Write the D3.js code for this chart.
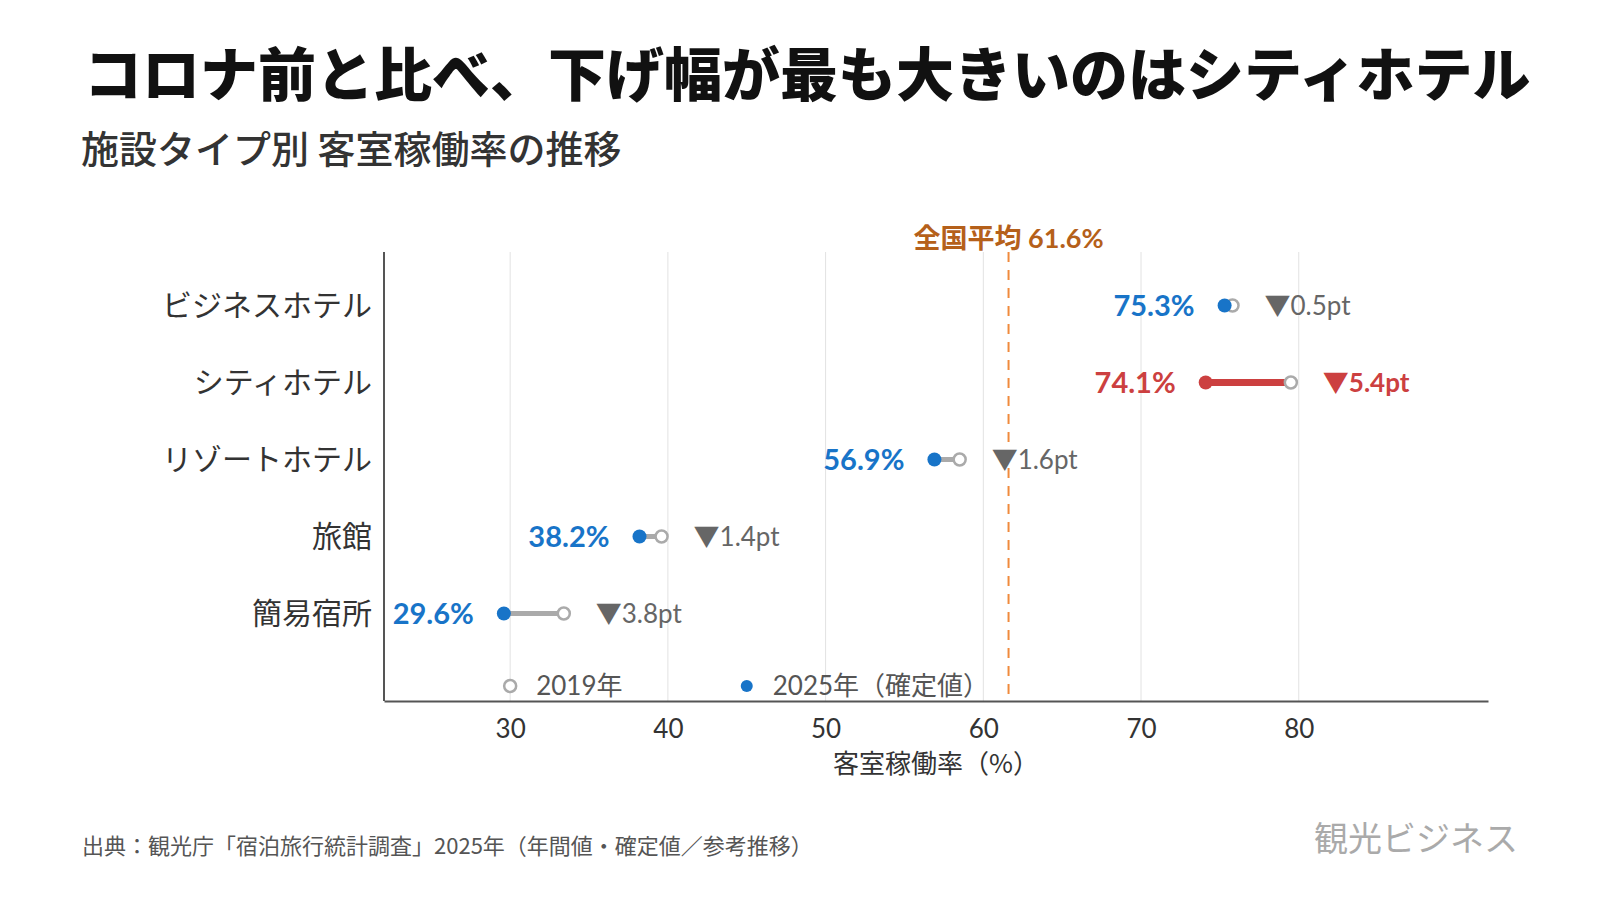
<!DOCTYPE html>
<html>
<head>
<meta charset="utf-8">
<script src="https://cdn.jsdelivr.net/npm/d3@7"></script>
<style>
  body { margin: 0; background: #fff; }
  svg { display: block; }
</style>
</head>
<body>
<div id="chart"></div>
<script>
// Data
const categories = ["ビジネスホテル", "シティホテル", "リゾートホテル", "旅館", "簡易宿所"];
const rate2019 = [75.8, 79.5, 58.5, 39.6, 33.4];
const rate2025 = [75.3, 74.1, 56.9, 38.2, 29.6];
const nationalAvg = 61.6;
const xTicks = [30, 40, 50, 60, 70, 80];
const highlight = "シティホテル";

const width = 1600, height = 900;
const font_jp = "'Noto Sans CJK JP', 'Noto Sans', sans-serif";
const font_num = "Lato, 'Noto Sans CJK JP', sans-serif";
const blue = "#1874c8", red = "#cc4040", grey = "#aaaaaa", orange = "#f08a3c";

const svg = d3.select("#chart").append("svg")
    .attr("width", width)
    .attr("height", height);

// Title
svg.append("text")
    .attr("x", 84).attr("y", 96)
    .attr("font-family", font_jp).attr("font-size", 58).attr("font-weight", 900)
    .attr("fill", "#111")
    .text("コロナ前と比べ、下げ幅が最も大きいのはシティホテル");

svg.append("text")
    .attr("x", 81).attr("y", 163)
    .attr("font-family", font_jp).attr("font-size", 38).attr("font-weight", 500)
    .attr("fill", "#333")
    .text("施設タイプ別 客室稼働率の推移");

// Scales
const plot = { left: 384, right: 1488, top: 252, bottom: 701 };

const xScale = d3.scaleLinear()
    .domain([22, 92])
    .range([plot.left, plot.right]);

const yScale = d3.scaleBand()
    .domain(categories)
    .range([267, 652]);

const yc = d => yScale(d) + yScale.bandwidth() / 2;

// Gridlines
svg.append("g")
    .selectAll("line")
    .data(xTicks)
    .join("line")
    .attr("x1", d => xScale(d)).attr("x2", d => xScale(d))
    .attr("y1", plot.top).attr("y2", plot.bottom)
    .attr("stroke", "#e2e2e2").attr("stroke-width", 1);

// Axes
const xAxis = svg.append("g")
    .attr("transform", `translate(0, ${plot.bottom})`)
    .call(d3.axisBottom(xScale).tickValues(xTicks).tickSize(0).tickPadding(19));
xAxis.select(".domain").attr("stroke", "#555").attr("stroke-width", 2);
xAxis.selectAll("text")
    .style("font-family", font_num).style("font-size", "26px").style("fill", "#333");

svg.append("line")
    .attr("x1", plot.left).attr("x2", plot.left)
    .attr("y1", plot.top).attr("y2", plot.bottom)
    .attr("stroke", "#555").attr("stroke-width", 2);

// Category labels
svg.append("g")
    .selectAll("text")
    .data(categories)
    .join("text")
    .attr("x", 372)
    .attr("y", d => yc(d))
    .attr("dy", "0.36em")
    .attr("text-anchor", "end")
    .attr("font-family", font_jp).attr("font-size", 30).attr("font-weight", 400)
    .attr("fill", "#333")
    .text(d => d);

// Axis title
svg.append("text")
    .attr("x", (plot.left + plot.right) / 2)
    .attr("y", 773)
    .attr("text-anchor", "middle")
    .attr("font-family", font_jp).attr("font-size", 26)
    .attr("fill", "#333")
    .text("客室稼働率（%）");

// National average
svg.append("line")
    .attr("x1", xScale(nationalAvg)).attr("x2", xScale(nationalAvg))
    .attr("y1", plot.top).attr("y2", plot.bottom)
    .attr("stroke", orange).attr("stroke-width", 2)
    .attr("stroke-dasharray", "10,8");

svg.append("text")
    .attr("x", xScale(nationalAvg))
    .attr("y", 248)
    .attr("text-anchor", "middle")
    .attr("font-family", font_num).attr("font-size", 27).attr("font-weight", 700)
    .attr("fill", "#b5601a")
    .text(`全国平均 ${nationalAvg}%`);

// Rows
const rows = categories.map((c, i) => ({ cat: c, v19: rate2019[i], v25: rate2025[i] }));

const g = svg.append("g");

g.selectAll("line.conn")
    .data(rows)
    .join("line")
    .attr("class", "conn")
    .attr("x1", d => xScale(d.v25)).attr("x2", d => xScale(d.v19))
    .attr("y1", d => yc(d.cat)).attr("y2", d => yc(d.cat))
    .attr("stroke", d => d.cat === highlight ? red : grey)
    .attr("stroke-width", d => d.cat === highlight ? 7 : 5);

g.selectAll("circle.c19")
    .data(rows)
    .join("circle")
    .attr("class", "c19")
    .attr("cx", d => xScale(d.v19)).attr("cy", d => yc(d.cat))
    .attr("r", 6)
    .attr("fill", "#fff").attr("stroke", grey).attr("stroke-width", 2.5);

g.selectAll("circle.c25")
    .data(rows)
    .join("circle")
    .attr("class", "c25")
    .attr("cx", d => xScale(d.v25)).attr("cy", d => yc(d.cat))
    .attr("r", 7)
    .attr("fill", d => d.cat === highlight ? red : blue);

g.selectAll("text.val")
    .data(rows)
    .join("text")
    .attr("class", "val")
    .attr("x", d => xScale(d.v25) - 30)
    .attr("y", d => yc(d.cat))
    .attr("dy", "0.36em")
    .attr("text-anchor", "end")
    .attr("font-family", font_num).attr("font-size", 29).attr("font-weight", 700)
    .attr("fill", d => d.cat === highlight ? red : blue)
    .text(d => `${d.v25.toFixed(1)}%`);

g.selectAll("text.diff")
    .data(rows)
    .join("text")
    .attr("class", "diff")
    .attr("x", d => xScale(d.v19) + 32)
    .attr("y", d => yc(d.cat))
    .attr("dy", "0.36em")
    .attr("font-family", font_num).attr("font-size", 26)
    .attr("font-weight", d => d.cat === highlight ? 700 : 400)
    .attr("fill", d => d.cat === highlight ? red : "#666")
    .text(d => `▼${(d.v19 - d.v25).toFixed(1)}pt`);

// Legend
const legendY = 686;
const legendItems = [
    { at: 30, label: "2019年", open: true },
    { at: 45, label: "2025年（確定値）", open: false }
];
const lg = svg.append("g").selectAll("g")
    .data(legendItems)
    .join("g")
    .attr("transform", d => `translate(${xScale(d.at)}, ${legendY})`);
lg.append("circle")
    .attr("r", 6)
    .attr("fill", d => d.open ? "#fff" : blue)
    .attr("stroke", d => d.open ? grey : "none")
    .attr("stroke-width", 2.5);
lg.append("text")
    .attr("x", 26).attr("dy", "0.36em")
    .attr("font-family", font_num).attr("font-size", 26)
    .attr("fill", "#555")
    .text(d => d.label);

// Footer
svg.append("text")
    .attr("x", 82).attr("y", 854)
    .attr("font-family", font_jp).attr("font-size", 22)
    .attr("fill", "#555")
    .text("出典：観光庁「宿泊旅行統計調査」2025年（年間値・確定値／参考推移）");

svg.append("text")
    .attr("x", 1518).attr("y", 851)
    .attr("text-anchor", "end")
    .attr("font-family", font_jp).attr("font-size", 34).attr("font-weight", 400)
    .attr("fill", "#aaa")
    .text("観光ビジネス");
</script>
</body>
</html>
